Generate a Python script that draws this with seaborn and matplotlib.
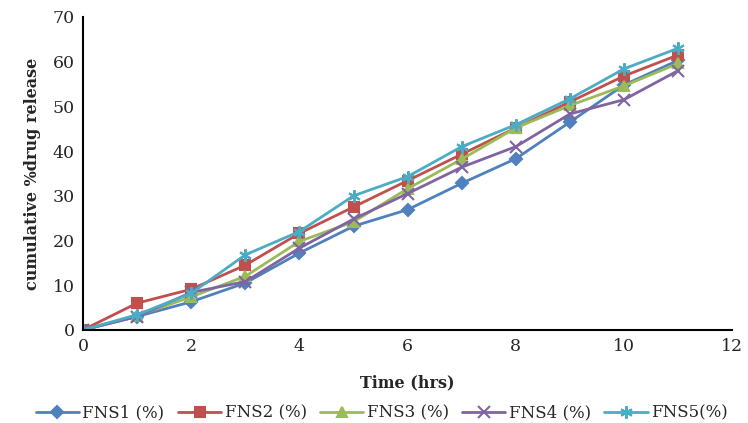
import numpy as np
import pandas as pd
import seaborn as sns
import matplotlib.pyplot as plt

time_hrs = [0, 1, 2, 3, 4, 5, 6, 7, 8, 9, 10, 11]
fns1 = [0, 3.0, 6.3, 10.5, 17.2, 23.2, 26.9, 32.8, 38.3, 46.5, 54.8, 60.3]
fns2 = [0, 6.0, 9.1, 14.5, 21.6, 27.5, 33.4, 39.3, 45.2, 51.0, 56.8, 61.5]
fns3 = [0, 3.2, 7.4, 12.0, 19.8, 24.2, 31.6, 38.2, 45.2, 50.2, 54.6, 59.6]
fns4 = [0, 3.0, 8.4, 10.8, 18.3, 24.8, 30.5, 36.4, 41.0, 48.3, 51.5, 58.0]
fns5 = [0, 3.4, 8.2, 16.8, 22.0, 30.0, 34.3, 41.0, 45.9, 51.7, 58.4, 63.0]

labels = ['FNS1 (%)', 'FNS2 (%)', 'FNS3 (%)', 'FNS4 (%)', 'FNS5(%)']
colors = ['#4F81BD', '#C0504D', '#9BBB59', '#8064A2', '#4BACC6']
markers = ['D', 's', '^', 'x', (6, 2, 0)]
msizes = [6, 7, 7, 8, 9]

df = pd.DataFrame({'time': time_hrs * 5,
                   'release': fns1 + fns2 + fns3 + fns4 + fns5,
                   'series': np.repeat(labels, len(time_hrs))})

sns.set_style('white')
plt.rcParams['font.family'] = ['DejaVu Serif']

fig = plt.figure(figsize=(7.48, 4.23), dpi=100)
ax = fig.add_axes([0.111, 0.22, 0.868, 0.74])

for lab, c, m, ms in zip(labels, colors, markers, msizes):
    sub = df[df['series'] == lab]
    sns.lineplot(data=sub, x='time', y='release', ax=ax, color=c, marker=m,
                 markersize=ms, markeredgecolor=c, markeredgewidth=1.5,
                 linewidth=2, label=lab)

ax.set_xlim(0, 12)
ax.set_ylim(0, 70)
ax.set_xticks(range(0, 13, 2))
ax.set_yticks(range(0, 71, 10))
ax.tick_params(axis='both', length=0, labelsize=12.5, pad=6)
for side in ['top', 'right']:
    ax.spines[side].set_visible(False)
for side in ['left', 'bottom']:
    ax.spines[side].set_color('black')
    ax.spines[side].set_linewidth(1.5)

ax.set_xlabel('Time (hrs)', fontsize=11.5, fontweight='bold', labelpad=14)
ax.set_ylabel('cumulative %drug release', fontsize=11.5, fontweight='bold', labelpad=8)

ax.legend(loc='upper center', bbox_to_anchor=(0.46, -0.19), ncol=5, frameon=False,
          fontsize=12, handlelength=2.6, columnspacing=0.8, handletextpad=0.2)

fig.savefig('out.png', dpi=100)
